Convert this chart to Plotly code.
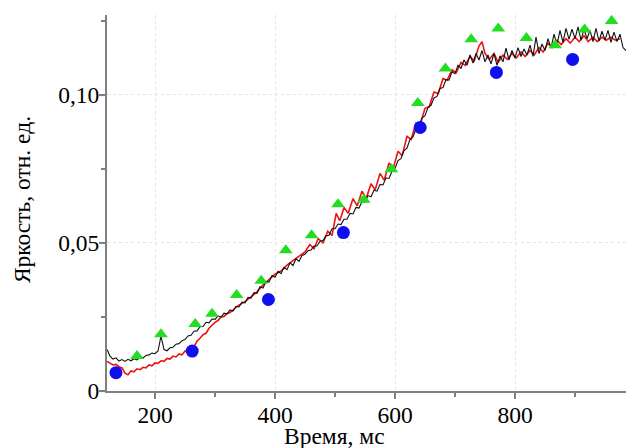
import plotly.graph_objects as go

# ---- data ----
black_v = [
    # 120 .. 295
    0.0140, 0.0118, 0.0108, 0.0112, 0.0101, 0.0106, 0.0100, 0.0107, 0.0102, 0.0109,
    0.0105, 0.0113, 0.0112, 0.0120, 0.0122, 0.0128, 0.0126, 0.0135, 0.0185, 0.0140,
    0.0136, 0.0146, 0.0148, 0.0158, 0.0160, 0.0170, 0.0174, 0.0186, 0.0188, 0.0202,
    0.0203, 0.0217, 0.0218, 0.0232, 0.0230, 0.0243,
    # 300 .. 445
    0.0242, 0.0254, 0.0250, 0.0263, 0.0260, 0.0274, 0.0270, 0.0286, 0.0284, 0.0300,
    0.0298, 0.0316, 0.0314, 0.0332, 0.0330, 0.0352, 0.0348, 0.0370, 0.0368, 0.0390,
    0.0384, 0.0404, 0.0396, 0.0418, 0.0410, 0.0433, 0.0424, 0.0447, 0.0438, 0.0458,
    # 450 .. 595
    0.0462, 0.0474, 0.0476, 0.0490, 0.0490, 0.0506, 0.0508, 0.0524, 0.0526, 0.0548,
    0.0548, 0.0564, 0.0562, 0.0580, 0.0580, 0.0600, 0.0598, 0.0620, 0.0618, 0.0640,
    0.0638, 0.0660, 0.0656, 0.0678, 0.0675, 0.0698, 0.0696, 0.0720, 0.0718, 0.0742,
    # 600 .. 695
    0.0752, 0.0778, 0.0785, 0.0812, 0.0820, 0.0850, 0.0858, 0.0885, 0.0895, 0.0922,
    0.0930, 0.0958, 0.0965, 0.0990, 0.0995, 0.1022, 0.1025, 0.1052, 0.1050, 0.1078,
    # 700 .. 795
    0.1072, 0.1100, 0.1090, 0.1118, 0.1100, 0.1135, 0.1108, 0.1140, 0.1118, 0.1150,
    0.1112, 0.1135, 0.1105, 0.1140, 0.1100, 0.1132, 0.1112, 0.1158, 0.1118, 0.1150,
    # 800 .. 895
    0.1125, 0.1160, 0.1130, 0.1155, 0.1135, 0.1168, 0.1130, 0.1195, 0.1140, 0.1172,
    0.1150, 0.1190, 0.1158, 0.1205, 0.1170, 0.1218, 0.1178, 0.1225, 0.1188, 0.1222,
    # 900 .. 985
    0.1190, 0.1230, 0.1185, 0.1222, 0.1190, 0.1218, 0.1180, 0.1225, 0.1182, 0.1215,
    0.1185, 0.1218, 0.1178, 0.1212, 0.1180, 0.1205, 0.1160, 0.1150,
]
black_t = [120 + 5 * i for i in range(len(black_v))]

red_t = [120, 125, 130, 135, 140, 145, 150, 155, 160, 165, 170, 175, 180, 185, 190,
         195, 200, 205, 210, 215, 220, 225, 230, 235, 240, 245, 250, 255, 260, 265,
         270, 275, 280, 285, 290, 295, 300, 305, 310, 315, 320, 325, 330, 335, 340,
         350, 360, 370, 380, 390, 400, 410, 420, 430, 440,
         450, 458, 465, 472, 480, 488, 495, 502, 508, 515, 522, 530, 537, 545, 552,
         560, 567, 575, 582, 590, 597, 605, 612, 620, 627, 635, 642, 650, 657, 665,
         672, 680, 687, 695, 702, 710, 717, 725, 732, 740, 745, 750, 757, 765, 772,
         780, 787, 795, 802, 810, 817, 825, 832, 840, 847, 855, 862, 870, 877, 885,
         892, 900, 907, 915, 922, 930, 937, 945, 952, 960, 967, 975]
red_v = [0.0100, 0.0095, 0.0088, 0.0090, 0.0082, 0.0078, 0.0060, 0.0055, 0.0068, 0.0065,
         0.0075, 0.0072, 0.0080, 0.0078, 0.0088, 0.0085, 0.0095, 0.0093, 0.0102, 0.0100,
         0.0110, 0.0108, 0.0118, 0.0115, 0.0125, 0.0122, 0.0135, 0.0130, 0.0148, 0.0150,
         0.0168, 0.0178, 0.0190, 0.0195, 0.0212, 0.0222, 0.0232, 0.0238, 0.0250, 0.0252,
         0.0262, 0.0265, 0.0272, 0.0282, 0.0290,
         0.0302, 0.0318, 0.0335, 0.0358, 0.0378, 0.0395, 0.0405, 0.0425, 0.0440, 0.0455,
         0.0470, 0.0495, 0.0480, 0.0515, 0.0500, 0.0540, 0.0525, 0.0600, 0.0575, 0.0620,
         0.0600, 0.0650, 0.0625, 0.0675, 0.0650, 0.0700, 0.0680, 0.0735, 0.0712, 0.0770,
         0.0752, 0.0810, 0.0795, 0.0860, 0.0850, 0.0905, 0.0900, 0.0955, 0.0960, 0.1010,
         0.1005, 0.1055, 0.1050, 0.1085, 0.1075, 0.1110, 0.1100, 0.1130, 0.1115, 0.1165,
         0.1180, 0.1140, 0.1120, 0.1140, 0.1110, 0.1135, 0.1120, 0.1140, 0.1125, 0.1145,
         0.1130, 0.1150, 0.1135, 0.1160, 0.1145, 0.1175, 0.1160, 0.1185, 0.1170, 0.1190,
         0.1175, 0.1195, 0.1180, 0.1200, 0.1180, 0.1195, 0.1180, 0.1195, 0.1185, 0.1195,
         0.1185, 0.1190]

tri_t = [170, 210, 267, 295, 336, 377, 418, 461, 505, 548, 594, 638, 684, 727, 772,
         819, 867, 916, 961]
tri_v = [0.0118, 0.0192, 0.0226, 0.0261, 0.0324, 0.0372, 0.0475, 0.0526, 0.0631,
         0.0646, 0.0749, 0.0973, 0.1089, 0.1188, 0.1224, 0.1192, 0.1168, 0.1221, 0.1250]

dot_t = [135, 262, 389, 514, 642, 769, 896]
dot_v = [0.0062, 0.0135, 0.0309, 0.0535, 0.0890, 0.1076, 0.1120]

x_ticks = [200, 400, 600, 800]
x_minor = [300, 500, 700, 900]
y_ticks = [0, 0.05, 0.10]
y_tick_text = ["0", "0,05", "0,10"]
y_minor = [0.025, 0.075, 0.125]

FONT = "Liberation Serif, Times New Roman, serif"
FS = 23.5

fig = go.Figure()
fig.add_trace(go.Scatter(x=red_t, y=red_v, mode="lines",
                         line=dict(color="#ee1111", width=1.6), showlegend=False))
fig.add_trace(go.Scatter(x=black_t, y=black_v, mode="lines",
                         line=dict(color="#111111", width=1.1), showlegend=False))
fig.add_trace(go.Scatter(x=tri_t, y=tri_v, mode="markers",
                         marker=dict(symbol="triangle-up", size=12, color="#22dd22"),
                         showlegend=False))
fig.add_trace(go.Scatter(x=dot_t, y=dot_v, mode="markers",
                         marker=dict(symbol="circle", size=13, color="#1010ee"),
                         showlegend=False))

axis_common = dict(ticks="outside", ticklen=6, tickwidth=1.5, tickcolor="#808080",
                   showline=True, linecolor="#808080", linewidth=2,
                   showgrid=True, gridcolor="#e4e4e4", griddash="dot", gridwidth=1,
                   zeroline=False, tickfont=dict(family=FONT, size=FS, color="black"))

fig.update_layout(
    width=628, height=448,
    margin=dict(l=107, r=2, t=15, b=57),
    paper_bgcolor="white", plot_bgcolor="white",
    font=dict(family=FONT, size=FS, color="black"),
    xaxis=dict(range=[120, 985], tickvals=x_ticks, ticklabelstandoff=-4,
               minor=dict(tickvals=x_minor, ticks="outside", ticklen=4,
                          tickcolor="#808080", showgrid=False),
               **axis_common),
    yaxis=dict(range=[0, 0.127], tickvals=y_ticks, ticktext=y_tick_text,
               ticklabelstandoff=-5,
               minor=dict(tickvals=y_minor, ticks="outside", ticklen=4,
                          tickcolor="#808080", showgrid=False),
               **axis_common),
    annotations=[
        dict(text="Время, мс", xref="paper", yref="paper", x=0.439, y=-0.12,
             xanchor="center", yanchor="middle", showarrow=False,
             font=dict(family=FONT, size=FS, color="black")),
        dict(text="Яркость, отн. ед.", xref="paper", yref="paper", x=-0.164, y=0.51,
             xanchor="center", yanchor="middle", textangle=-90, showarrow=False,
             font=dict(family=FONT, size=FS, color="black")),
    ],
)

fig.write_html("out.html")
